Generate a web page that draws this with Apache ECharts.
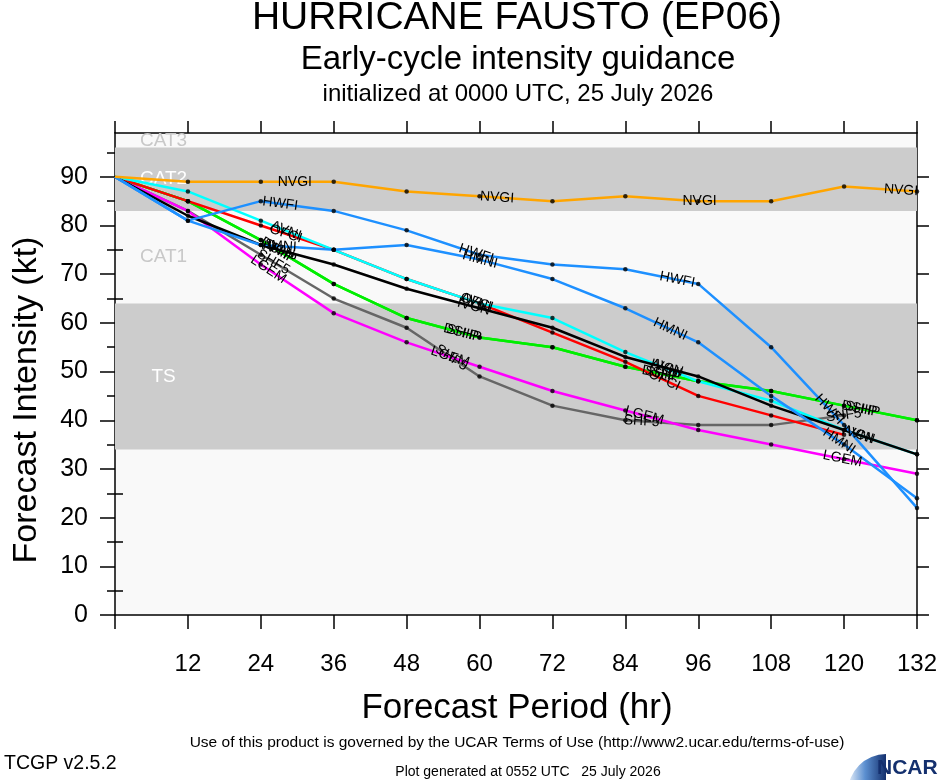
<!DOCTYPE html>
<html>
<head>
<meta charset="utf-8">
<script src="https://cdn.jsdelivr.net/npm/echarts/dist/echarts.min.js"></script>
<style>
html,body{margin:0;padding:0;background:#fff;}
#c{width:940px;height:780px;}
</style>
</head>
<body>
<div id="c"></div>
<script>
// ---------------- data ----------------
const hours = [0, 12, 24, 36, 48, 60, 72, 84, 96, 108, 120, 132];
const xTickLabels = [12, 24, 36, 48, 60, 72, 84, 96, 108, 120, 132];
const yTickLabels = [0, 10, 20, 30, 40, 50, 60, 70, 80, 90];
const yMinorTicks = [5, 15, 25, 35, 45, 55, 65, 75, 85, 95];

const SHF5 = [90, 83, 74, 65, 59, 49, 43, 40, 39, 39, 41];
const LGEM = [90, 83, 72, 62, 56, 51, 46, 42, 38, 35, 32, 29];
const SHIP = [90, 85, 77, 68, 61, 57, 55, 51, 48, 46, 43, 40];
const DSHP = [90, 85, 77, 68, 61, 57, 55, 51, 48, 46, 43, 40];
const OFCI = [90, 85, 80, 75, 69, 64, 58, 52, 45, 41, 37];
const AVNI = [90, 87, 81, 75, 69, 64, 61, 54, 48, 44, 38, 33];
const IVCN = [90, 82, 76, 72, 67, 63, 59, 53, 49, 43, 38, 33];
const HMNI = [90, 81, 76, 75, 76, 73, 69, 63, 56, 45, 35, 24];
const HWFI = [90, 81, 85, 83, 79, 74, 72, 71, 68, 55, 39, 22];
const NVGI = [90, 89, 89, 89, 87, 86, 85, 86, 85, 85, 88, 87];

// intensity category thresholds (kt) and names
const catBounds = [34, 64, 83, 96];
const catNames = ['TS', 'CAT1', 'CAT2', 'CAT3'];
const yMax = 99;

// ---------------- styling ----------------
const FAM = '"Liberation Sans", Arial, Helvetica, sans-serif';
const models = [
  {name: 'SHF5', values: SHF5, color: '#666666'},
  {name: 'LGEM', values: LGEM, color: '#ff00ff'},
  {name: 'SHIP', values: SHIP, color: '#00ee00'},
  {name: 'DSHP', values: DSHP, color: '#00ee00'},
  {name: 'OFCI', values: OFCI, color: '#ff0000'},
  {name: 'AVNI', values: AVNI, color: '#00ffff'},
  {name: 'IVCN', values: IVCN, color: '#000000'},
  {name: 'HMNI', values: HMNI, color: '#1e90ff'},
  {name: 'HWFI', values: HWFI, color: '#1e90ff'},
  {name: 'NVGI', values: NVGI, color: '#ffa500'}
];
const bandColors = ['#cccccc', '#f9f9f9', '#cccccc', '#f9f9f9'];
const bandTextColors = ['#ffffff', '#c8c8c8', '#ffffff', '#c8c8c8'];

const chart = echarts.init(document.getElementById('c'), null, {renderer: 'canvas'});

const axisLineStyle = {color: '#000', width: 1.5};

// gray bands
const bandAreas = [];
for (let i = 0; i < catBounds.length; i++) {
  const lo = catBounds[i];
  const hi = i + 1 < catBounds.length ? catBounds[i + 1] : yMax;
  if (bandColors[i] !== '#f9f9f9') {
    bandAreas.push([{xAxis: 0, yAxis: lo, itemStyle: {color: bandColors[i]}}, {xAxis: 132, yAxis: hi}]);
  }
}

const series = [{
  type: 'line',
  data: [[0, null]],
  showSymbol: false,
  silent: true,
  lineStyle: {opacity: 0},
  z: 1,
  markArea: {silent: true, label: {show: false}, data: bandAreas}
}];

models.forEach(m => {
  series.push({
    type: 'line',
    name: m.name,
    data: m.values.map((v, i) => [hours[i], v]),
    showSymbol: false,
    symbol: 'none',
    silent: true,
    lineStyle: {color: m.color, width: 2.5},
    itemStyle: {color: m.color},
    z: 3
  });
});

// black dots at each forecast time (excluding the initial point)
const dots = [];
models.forEach(m => m.values.forEach((v, i) => { if (i > 0) dots.push([hours[i], v]); }));
series.push({
  type: 'scatter',
  data: dots,
  symbol: 'circle',
  symbolSize: 4.5,
  itemStyle: {color: '#000'},
  silent: true,
  z: 6
});

const option = {
  animation: false,
  backgroundColor: '#ffffff',
  grid: {left: 115, right: 22, top: 133, bottom: 165, show: true, backgroundColor: '#f9f9f9', borderWidth: 0},
  xAxis: [
    {
      type: 'value', min: 0, max: 132, interval: 12, position: 'bottom',
      axisLine: {show: true, onZero: false, lineStyle: axisLineStyle},
      axisTick: {show: true, inside: false, length: 14, lineStyle: axisLineStyle},
      axisLabel: {show: true, color: '#000', fontSize: 24, fontFamily: FAM, margin: 37,
        formatter: v => (xTickLabels.indexOf(v) >= 0 ? String(v) : '')},
      splitLine: {show: false}
    },
    {
      type: 'value', min: 0, max: 132, interval: 12, position: 'top',
      axisLine: {show: true, onZero: false, lineStyle: axisLineStyle},
      axisTick: {show: true, inside: false, length: 12, lineStyle: axisLineStyle},
      axisLabel: {show: false},
      splitLine: {show: false}
    }
  ],
  yAxis: [
    {
      type: 'value', min: 0, max: yMax, position: 'left',
      axisLine: {show: true, onZero: false, lineStyle: axisLineStyle},
      axisTick: {show: true, inside: false, length: 15, customValues: yTickLabels, lineStyle: axisLineStyle},
      axisLabel: {show: true, color: '#000', fontSize: 25, fontFamily: FAM, margin: 27, customValues: yTickLabels},
      splitLine: {show: false}
    },
    {
      type: 'value', min: 0, max: yMax, position: 'left',
      axisLine: {show: false},
      axisTick: {show: true, inside: false, length: 8, customValues: yMinorTicks, lineStyle: axisLineStyle},
      axisLabel: {show: false},
      splitLine: {show: false}
    },
    {
      type: 'value', min: 0, max: yMax, position: 'right',
      axisLine: {show: true, onZero: false, lineStyle: axisLineStyle},
      axisTick: {show: true, inside: false, length: 12, customValues: yTickLabels, lineStyle: axisLineStyle},
      axisLabel: {show: false},
      splitLine: {show: false}
    },
    {
      type: 'value', min: 0, max: yMax, position: 'right',
      axisLine: {show: false},
      axisTick: {show: true, inside: false, length: 8, customValues: yMinorTicks, lineStyle: axisLineStyle},
      axisLabel: {show: false},
      splitLine: {show: false}
    }
  ],
  series: series
};
chart.setOption(option);

// ---------------- text elements ----------------
function txt(x, y, text, size, opts) {
  opts = opts || {};
  return {
    type: 'text', x: x, y: y, rotation: opts.rotation || 0, z: opts.z || 50, silent: true,
    style: {
      text: text, fill: opts.color || '#000',
      font: (opts.weight ? opts.weight + ' ' : '') + size + 'px ' + (opts.family || FAM),
      textAlign: opts.align || 'center', textVerticalAlign: opts.valign || 'middle',
      align: opts.align || 'center', verticalAlign: opts.valign || 'middle'
    }
  };
}

const graphics = [];
graphics.push(txt(517, 18, 'HURRICANE FAUSTO (EP06)', 39));
graphics.push(txt(518, 60, 'Early-cycle intensity guidance', 33));
graphics.push(txt(518, 94, 'initialized at 0000 UTC, 25 July 2026', 24));
graphics.push(txt(517, 708, 'Forecast Period (hr)', 35));
graphics.push(txt(27, 400, 'Forecast Intensity (kt)', 34, {rotation: Math.PI / 2}));
graphics.push(txt(517, 743, 'Use of this product is governed by the UCAR Terms of Use (http://www2.ucar.edu/terms-of-use)', 15.5));
graphics.push(txt(4, 764, 'TCGP v2.5.2', 19.5, {align: 'left'}));
graphics.push(txt(528, 772, 'Plot generated at 0552 UTC   25 July 2026', 14));

// NCAR logo
graphics.push({
  type: 'sector', silent: true, z: 40,
  shape: {cx: 886, cy: 792, r: 38, r0: 12, startAngle: Math.PI, endAngle: Math.PI * 1.5},
  style: {fill: new echarts.graphic.LinearGradient(0, 0, 1, 0, [
    {offset: 0, color: '#e8f0fa'}, {offset: 0.45, color: '#5b8fd0'}, {offset: 1, color: '#14306e'}])}
});
graphics.push(txt(877, 768, 'NCAR', 21, {align: 'left', weight: 'bold', color: '#14306e'}));

// band labels centred in the visible part of each band
for (let i = 0; i < catBounds.length; i++) {
  const lo = catBounds[i];
  const hi = i + 1 < catBounds.length ? catBounds[i + 1] : yMax;
  const p = chart.convertToPixel({gridIndex: 0}, [8, (lo + hi) / 2]);
  graphics.push(txt(p[0], p[1], catNames[i], 19, {color: bandTextColors[i], z: 2}));
}

// inline model labels placed along each line at equal arc-length intervals
const LABEL_START = 180, LABEL_STEP = 203;
models.forEach(m => {
  const pts = m.values.map((v, i) => chart.convertToPixel({gridIndex: 0}, [hours[i], v]));
  let acc = 0, target = LABEL_START;
  for (let i = 1; i < pts.length; i++) {
    const x0 = pts[i - 1][0], y0 = pts[i - 1][1], x1 = pts[i][0], y1 = pts[i][1];
    const L = Math.hypot(x1 - x0, y1 - y0);
    while (target <= acc + L) {
      const f = (target - acc) / L;
      const x = x0 + f * (x1 - x0), y = y0 + f * (y1 - y0);
      graphics.push(txt(x, y, m.name, 14, {rotation: Math.atan2(-(y1 - y0), x1 - x0), z: 60}));
      target += LABEL_STEP;
    }
    acc += L;
  }
});

chart.setOption({graphic: {elements: graphics}});
</script>
</body>
</html>
